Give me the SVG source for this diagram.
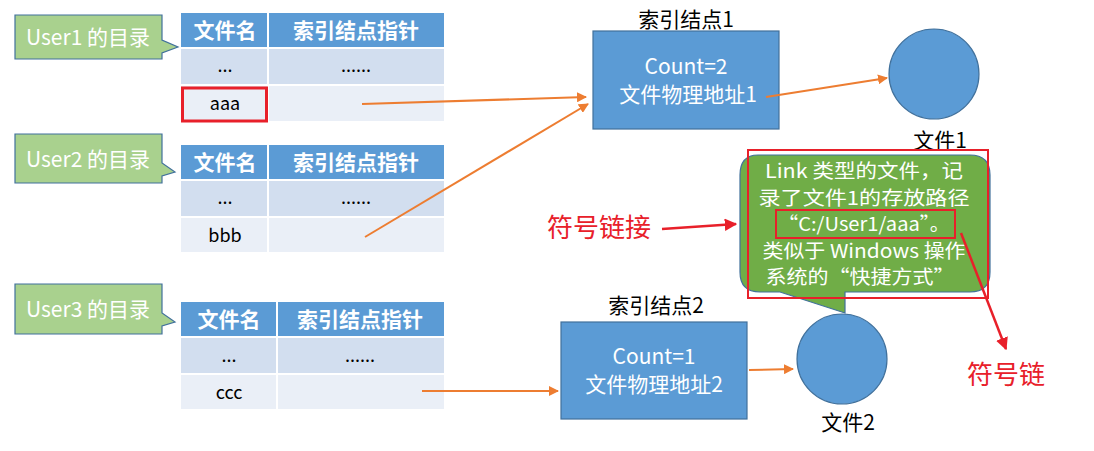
<svg xmlns="http://www.w3.org/2000/svg" width="1094" height="451" viewBox="0 0 1094 451">
<defs>
<marker id="oa" viewBox="0 0 10 10" refX="9" refY="5" markerWidth="5" markerHeight="5" orient="auto"><path d="M0,0 L10,5 L0,10 Z" fill="#ED7D31"/></marker>
<marker id="ra" viewBox="0 0 10 10" refX="9" refY="5" markerWidth="5" markerHeight="5" orient="auto"><path d="M0,0 L10,5 L0,10 Z" fill="#E8202A"/></marker>
</defs>
<style>
text{font-family:"Noto Sans CJK SC","Liberation Sans",sans-serif;text-anchor:middle;}
.hd{fill:#5B9BD5;}
.r1{fill:#D2DEEF;}
.r2{fill:#EAEFF7;}
.ht{fill:#fff;font-size:21px;font-weight:bold;}
.ct{fill:#000;font-size:18px;}
.call{fill:#A9D18E;stroke:#41719C;stroke-width:1.2;}
.callt{fill:#fff;font-size:21px;}
.gt{fill:#fff;font-size:19px;}
.box{fill:#5B9BD5;stroke:#41719C;stroke-width:1.2;}
.bt{fill:#fff;font-size:21px;}
.lb{fill:#000;font-size:21px;}
.oar{stroke:#ED7D31;stroke-width:2;fill:none;marker-end:url(#oa);}
.rar{stroke:#E8202A;stroke-width:2.5;fill:none;marker-end:url(#ra);}
.red{fill:#E8202A;font-size:26px;}
.sep{stroke:#fff;stroke-width:2;}
</style>

<g id="dir1">
<path class="call" d="M15,15 H162 V40 L178,47 L162,53 V59 H15 Z"/>
<text class="callt" x="88" y="45">User1 的目录</text>
<rect class="hd" x="181" y="13" width="263" height="34"/>
<rect class="r1" x="181" y="49" width="263" height="35"/>
<rect class="r2" x="181" y="86" width="263" height="35"/>
<line class="sep" x1="268" y1="13" x2="268" y2="121"/>
<text class="ht" x="225" y="38">文件名</text>
<text class="ht" x="356" y="38">索引结点指针</text>
<text class="ct" x="225" y="72">...</text>
<text class="ct" x="356" y="72">......</text>
<text class="ct" x="225" y="110">aaa</text>
<rect x="182.5" y="88" width="84" height="33" fill="none" stroke="#E8202A" stroke-width="3"/>
</g>

<g id="dir2">
<path class="call" d="M15,134 H162 V163 L175,172 L162,176 V183 H15 Z"/>
<text class="callt" x="88" y="167">User2 的目录</text>
<rect class="hd" x="181" y="145" width="263" height="34"/>
<rect class="r1" x="181" y="181" width="263" height="35"/>
<rect class="r2" x="181" y="218" width="263" height="34"/>
<line class="sep" x1="268" y1="145" x2="268" y2="252"/>
<text class="ht" x="225" y="170">文件名</text>
<text class="ht" x="356" y="170">索引结点指针</text>
<text class="ct" x="225" y="204">...</text>
<text class="ct" x="356" y="204">......</text>
<text class="ct" x="225" y="242">bbb</text>
</g>

<g id="dir3">
<path class="call" d="M15,284 H162 V313 L175,322 L162,326 V334 H15 Z"/>
<text class="callt" x="88" y="317">User3 的目录</text>
<rect class="hd" x="181" y="302" width="263" height="34"/>
<rect class="r1" x="181" y="338" width="263" height="35"/>
<rect class="r2" x="181" y="375" width="263" height="34"/>
<line class="sep" x1="277" y1="302" x2="277" y2="409"/>
<text class="ht" x="229" y="327">文件名</text>
<text class="ht" x="360" y="327">索引结点指针</text>
<text class="ct" x="229" y="362">...</text>
<text class="ct" x="360" y="362">......</text>
<text class="ct" x="229" y="399">ccc</text>
</g>

<g id="inode1">
<text class="lb" x="686" y="27">索引结点1</text>
<rect class="box" x="593" y="31" width="186" height="98"/>
<text class="bt" x="686" y="74">Count=2</text>
<text class="bt" x="688" y="102">文件物理地址1</text>
</g>

<g id="file1">
<circle cx="934" cy="74" r="45" fill="#5B9BD5" stroke="#41719C" stroke-width="1.2"/>
<text class="lb" x="940" y="148">文件1</text>
</g>

<g id="inode2">
<text class="lb" x="656" y="313">索引结点2</text>
<rect class="box" x="561" y="322" width="186" height="97"/>
<text class="bt" x="654" y="364">Count=1</text>
<text class="bt" x="654" y="392">文件物理地址2</text>
</g>

<g id="file2">
<circle cx="842" cy="359" r="45" fill="#5B9BD5" stroke="#41719C" stroke-width="1.2"/>
<text class="lb" x="848" y="430">文件2</text>
</g>

<g id="link">
<path d="M758,155 H970 Q990,155 990,175 V272 Q990,292 970,292 H845 V313 L780,292 H760 Q740,292 740,272 V175 Q740,155 758,155 Z" fill="#70AD47" stroke="#41719C" stroke-width="1.2"/>
<rect x="748" y="150" width="240" height="148" fill="none" stroke="#E8202A" stroke-width="2"/>
<text class="gt" x="864" y="178" textLength="198" lengthAdjust="spacingAndGlyphs">Link 类型的文件，记</text>
<text class="gt" x="864" y="204.5" textLength="211" lengthAdjust="spacingAndGlyphs">录了文件1的存放路径</text>
<text class="gt" x="864" y="231" textLength="172" lengthAdjust="spacingAndGlyphs">“C:/User1/aaa”。</text>
<text class="gt" x="864" y="257.5" textLength="203" lengthAdjust="spacingAndGlyphs">类似于 Windows 操作</text>
<text class="gt" x="860" y="284" textLength="189" lengthAdjust="spacingAndGlyphs">系统的“快捷方式”</text>
<rect x="776" y="210" width="179" height="28" fill="none" stroke="#E8202A" stroke-width="2"/>
</g>

<g id="labels">
<text class="red" x="599" y="237">符号链接</text>
<text class="red" x="1006" y="384">符号链</text>
</g>

<g id="connectors">
<line class="oar" x1="362" y1="104" x2="586" y2="97"/>
<line class="oar" x1="365" y1="237" x2="588" y2="104"/>
<line class="oar" x1="766" y1="97" x2="887" y2="78"/>
<line class="oar" x1="422" y1="391" x2="558" y2="391"/>
<line class="oar" x1="749" y1="370" x2="793" y2="369"/>
<line class="rar" x1="662" y1="229" x2="736" y2="224"/>
<line class="rar" x1="961" y1="233" x2="1006" y2="349"/>
</g>
</svg>
